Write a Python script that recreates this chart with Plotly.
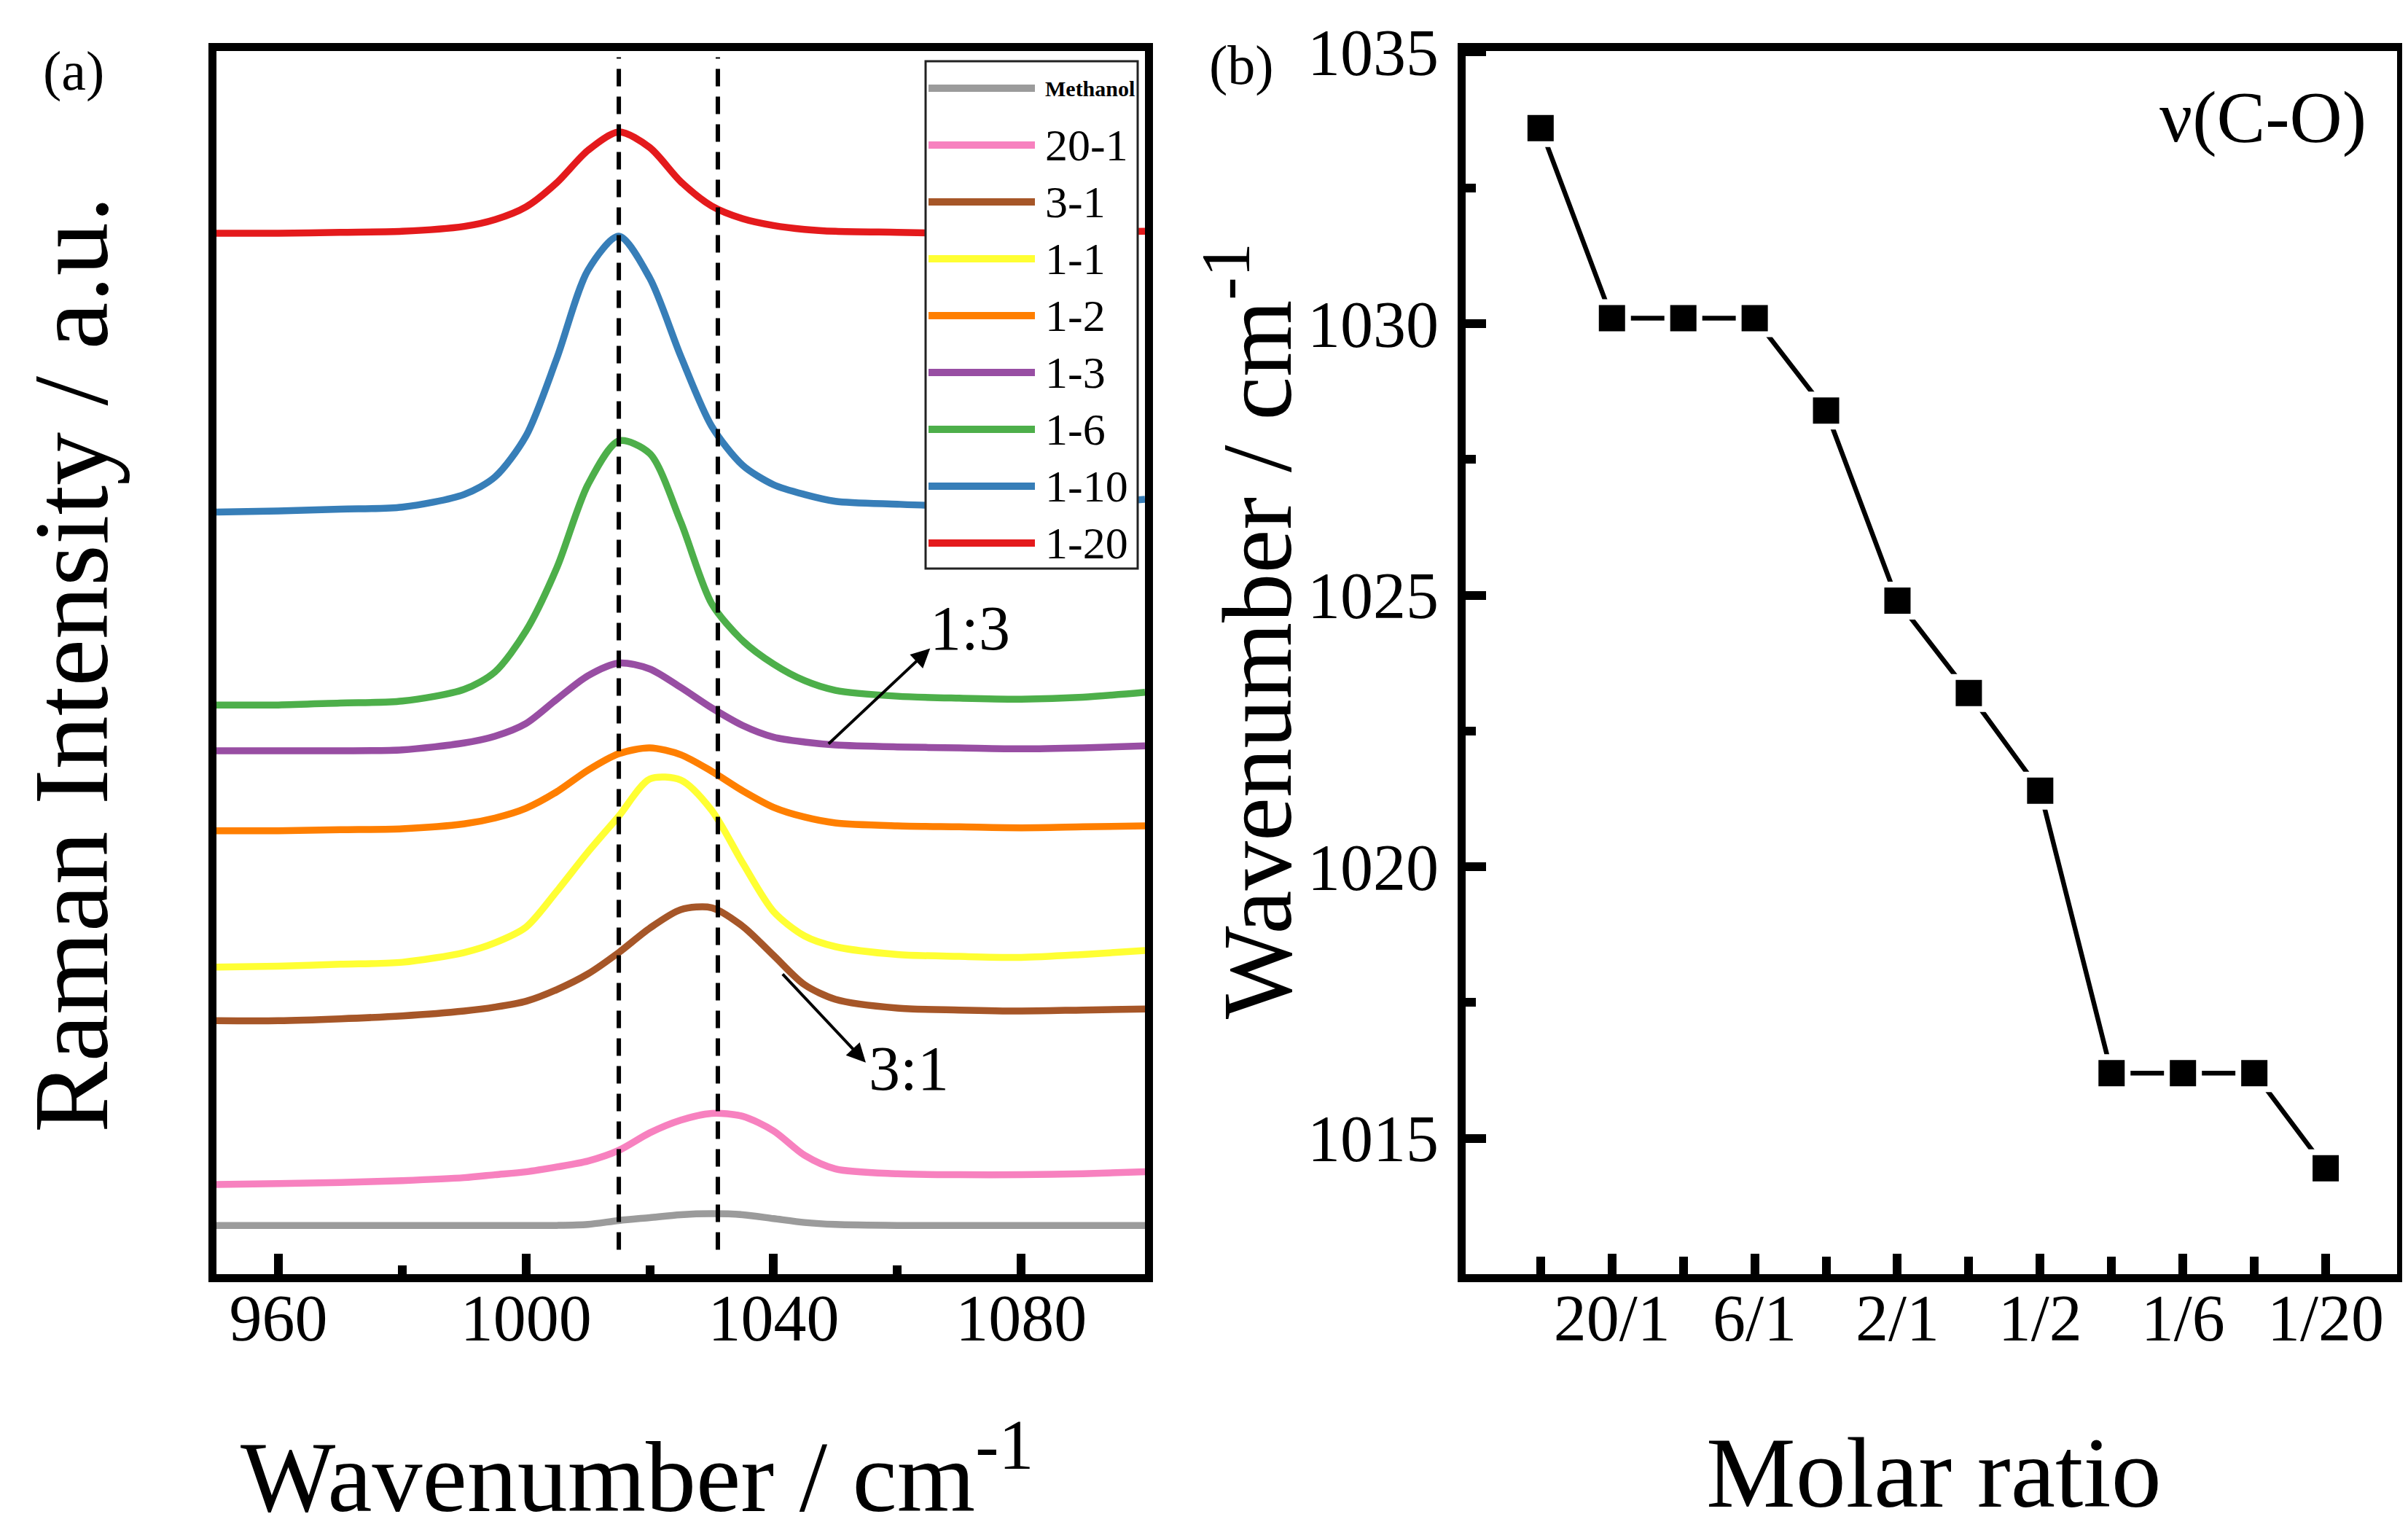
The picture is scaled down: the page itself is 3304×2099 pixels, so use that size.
import plotly.graph_objects as go

# Raman spectra, panel (a): x in cm-1, intensity in arbitrary (offset) units
wavenumber = [950, 960, 970, 980, 990, 995, 1000, 1005, 1010, 1015, 1020,
              1025, 1030, 1035, 1040, 1045, 1050, 1060, 1070, 1080, 1090, 1100]

methanol = [50, 50, 50, 50, 50, 50, 50, 50, 51, 55, 58, 61, 62, 61, 57, 53, 51, 50, 50, 50, 50, 50]
r20_1 = [92, 93, 94, 96, 99, 102, 105, 110, 116, 127, 145, 158, 165, 162, 147, 122, 108, 103, 102, 102, 103, 105]
r3_1 = [260, 260, 262, 265, 270, 274, 280, 292, 308, 330, 355, 374, 376, 357, 327, 297, 282, 273, 271, 270, 271, 272]
r1_1 = [315, 316, 318, 320, 330, 340, 356, 393, 433, 470, 508, 507, 476, 422, 372, 347, 336, 328, 326, 325, 328, 332]
r1_2 = [455, 455, 456, 457, 462, 468, 478, 495, 517, 534, 540, 533, 516, 496, 479, 469, 463, 460, 459, 458, 459, 460]
r1_3 = [537, 537, 537, 538, 545, 552, 565, 590, 614, 627, 621, 602, 581, 563, 551, 546, 543, 541, 540, 539, 540, 542]
r1_6 = [584, 584, 586, 588, 600, 618, 660, 725, 810, 855, 842, 772, 688, 650, 626, 609, 599, 593, 591, 590, 592, 597]
r1_10 = [782, 783, 785, 787, 800, 818, 860, 940, 1030, 1065, 1022, 942, 870, 830, 810, 800, 793, 790, 788, 789, 791, 795]
r1_20 = [1068, 1068, 1069, 1070, 1075, 1082, 1095, 1120, 1153, 1172, 1156, 1121, 1096, 1083, 1076, 1072, 1070, 1069, 1068, 1068, 1069, 1070]

series = [methanol, r20_1, r3_1, r1_1, r1_2, r1_3, r1_6, r1_10, r1_20]
names = ["Methanol", "20-1", "3-1", "1-1", "1-2", "1-3", "1-6", "1-10", "1-20"]
colors = ["#9b9b9b", "#f781bf", "#a65628", "#ffff33", "#ff7f00",
          "#984ea3", "#4daf4a", "#377eb8", "#e41a1c"]

dashed_at = [1015, 1031]

# panel (b): C-O stretching position vs molar ratio
ratio_pos = [1, 2, 3, 4, 5, 6, 7, 8, 9, 10, 11, 12]
co_peak = [1033.6, 1030.1, 1030.1, 1030.1, 1028.4, 1024.9,
           1023.2, 1021.4, 1016.2, 1016.2, 1016.2, 1014.45]
ratio_ticks = [2, 4, 6, 8, 10, 12]
ratio_labels = ["20/1", "6/1", "2/1", "1/2", "1/6", "1/20"]
ratio_minor = [1, 3, 5, 7, 9, 11]

FONT = "Liberation Serif"
W = 3304.0
H = 2099.0

fig = go.Figure()

for name, ys, col in zip(names, series, colors):
    fig.add_trace(go.Scatter(x=wavenumber, y=ys, name=name, mode="lines",
                             line=dict(color=col, width=9.5, shape="spline", smoothing=0.8),
                             xaxis="x", yaxis="y", showlegend=False))

# white outline on the squares gives the small gap between line and marker
fig.add_trace(go.Scatter(x=ratio_pos, y=co_peak, mode="lines+markers",
                         line=dict(color="black", width=6.5),
                         marker=dict(symbol="square", size=44, color="black",
                                     line=dict(color="white", width=8)),
                         xaxis="x2", yaxis="y2", showlegend=False))

shapes = []
for xv in dashed_at:
    shapes.append(dict(type="line", xref="x", yref="y domain", x0=xv, x1=xv, y0=0.02, y1=0.995,
                       line=dict(color="black", width=6, dash="24px,14px"), layer="above"))

# legend box drawn by hand, like the original one
shapes.append(dict(type="rect", xref="paper", yref="paper",
                   x0=1262 / W, x1=1553 / W, y0=1 - 772 / H, y1=1 - 76 / H,
                   line=dict(color="#222", width=3), fillcolor="white", layer="above"))
annotations = []
for i, (name, col) in enumerate(zip(names, colors)):
    yrow = 1 - (113 + i * 78) / H
    shapes.append(dict(type="line", xref="paper", yref="paper",
                       x0=1266 / W, x1=1412 / W, y0=yrow, y1=yrow,
                       line=dict(color=col, width=10), layer="above"))
    if name == "Methanol":
        txt, size = "<b>Methanol</b>", 30
    else:
        txt, size = name, 62
    annotations.append(dict(text=txt, xref="paper", yref="paper", x=1424 / W, y=yrow,
                            xanchor="left", yanchor="middle", showarrow=False,
                            font=dict(family=FONT, size=size, color="black")))

# arrows and labels in panel (a)
annotations += [
    dict(x=1065.3, y=642, ax=1048.7, ay=543, xref="x", yref="y", axref="x", ayref="y",
         showarrow=True, arrowhead=2, arrowsize=1.3, arrowwidth=4, arrowcolor="black", text=""),
    dict(x=1054.9, y=217, ax=1041.3, ay=309, xref="x", yref="y", axref="x", ayref="y",
         showarrow=True, arrowhead=2, arrowsize=1.3, arrowwidth=4, arrowcolor="black", text=""),
    dict(x=1071.7, y=663, xref="x", yref="y", text="1:3", showarrow=False,
         xanchor="center", yanchor="middle",
         font=dict(family=FONT, size=86, color="black")),
    dict(x=1061.9, y=211, xref="x", yref="y", text="3:1", showarrow=False,
         xanchor="center", yanchor="middle",
         font=dict(family=FONT, size=86, color="black")),
]


def label(text, xf, yf, size, angle=0):
    return dict(text=text, xref="paper", yref="paper", x=xf / W, y=1 - yf / H,
                xanchor="center", yanchor="middle", textangle=angle, showarrow=False,
                font=dict(family=FONT, size=size, color="black"))


# titles and panel labels
annotations += [
    label("Raman Intensity / a.u.", 90, 904, 146, -90),
    label("Wavenumber / cm<sup>-1</sup>", 866, 2008, 138),
    label("Molar ratio", 2645, 2012, 138),
    label("Wavenumber / cm<sup>-1</sup>", 1707, 858, 135, -90),
    label("(a)", 93, 90, 76),
    label("(b)", 1695, 82, 76),
    label("ν(C-O)", 3097, 152, 100),
]

axis_common = dict(showline=True, linewidth=11, linecolor="black", mirror=True,
                   showgrid=False, zeroline=False, ticks="inside", tickwidth=12,
                   ticklen=28, tickcolor="black", automargin=False,
                   tickfont=dict(family=FONT, size=90, color="black"))
ydom = [1 - 1740 / H, 1 - 62 / H]

fig.update_layout(
    width=3304, height=2099,
    margin=dict(l=0, r=0, t=0, b=0),
    paper_bgcolor="white", plot_bgcolor="white",
    showlegend=False,
    xaxis=dict(domain=[289 / W, 1563 / W], range=[950, 1100], anchor="y",
               tick0=960, dtick=40, ticklabelstandoff=-28,
               minor=dict(tick0=960, dtick=20, ticks="inside", ticklen=12, tickwidth=12,
                          tickcolor="black"),
               **axis_common),
    yaxis=dict(domain=ydom, range=[0, 1255], anchor="x", showline=True, linewidth=11,
               linecolor="black", mirror=True, showgrid=False, zeroline=False,
               showticklabels=False, ticks="", automargin=False),
    xaxis2=dict(domain=[2003 / W, 3281 / W], range=[-0.05, 13.0], anchor="y2",
                tickmode="array", tickvals=ratio_ticks, ticktext=ratio_labels,
                ticklabelstandoff=-28,
                minor=dict(tickmode="array", tickvals=ratio_minor, ticks="inside",
                           ticklen=24, tickwidth=12, tickcolor="black"),
                **axis_common),
    yaxis2=dict(domain=ydom, range=[1012.5, 1035.02], anchor="x2",
                tick0=1015, dtick=5, ticklabelstandoff=8,
                minor=dict(tick0=1015, dtick=2.5, ticks="inside", ticklen=14, tickwidth=12,
                           tickcolor="black"),
                **axis_common),
    shapes=shapes,
    annotations=annotations,
)

fig.write_html("out.html")
